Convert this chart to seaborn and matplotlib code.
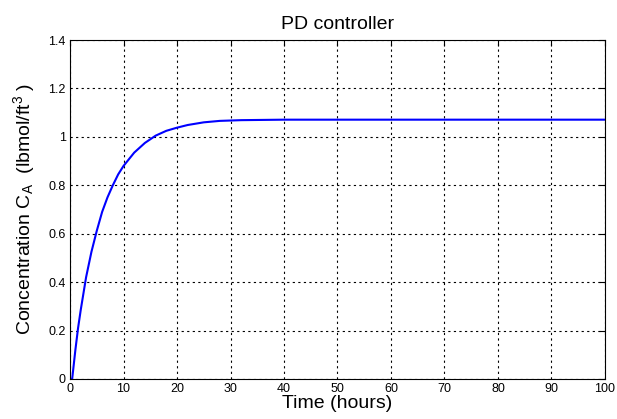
import matplotlib
matplotlib.use("Agg")
import matplotlib.pyplot as plt
import seaborn as sns
import pandas as pd

time_hours = [0, 0.4, 1.0, 1.5, 2.0, 3.0, 4.0, 5.0, 6.0, 7.0, 8.0, 9.0, 10.0, 12.0, 14.0,
              16.0, 18.0, 20.0, 22.0, 25.0, 28.0, 32.0, 40.0, 50.0, 60.0, 70.0, 80.0, 90.0, 100.0]
conc = [0.0, 0.0, 0.12, 0.21, 0.285, 0.42, 0.525, 0.612, 0.69, 0.75, 0.80, 0.845, 0.88, 0.935, 0.975,
        1.005, 1.025, 1.038, 1.049, 1.06, 1.066, 1.069, 1.071, 1.071, 1.071, 1.071, 1.071, 1.071, 1.071]
x_ticks = [0, 10, 20, 30, 40, 50, 60, 70, 80, 90, 100]
y_ticks = [0, 0.2, 0.4, 0.6, 0.8, 1.0, 1.2, 1.4]
y_tick_labels = ["0", "0.2", "0.4", "0.6", "0.8", "1", "1.2", "1.4"]

sns.set_theme(style="white")
plt.rcParams['font.family'] = ['Liberation Sans', 'DejaVu Sans']
plt.rcParams['mathtext.fontset'] = 'custom'
plt.rcParams['mathtext.rm'] = 'Liberation Sans'
plt.rcParams['mathtext.it'] = 'Liberation Sans'

df = pd.DataFrame({"t": time_hours, "c": conc})

fig = plt.figure(figsize=(6.17, 4.19), dpi=100)
ax = fig.add_axes([0.1135, 0.0955, 0.867, 0.809])
sns.lineplot(data=df, x="t", y="c", ax=ax, color="#0000ff", linewidth=1.5)

ax.set_xlim(0, 100)
ax.set_ylim(0, 1.4)
ax.set_xticks(x_ticks)
ax.set_xticklabels([str(v) for v in x_ticks])
ax.set_yticks(y_ticks)
ax.set_yticklabels(y_tick_labels)
ax.grid(True, color="black", linestyle=(0, (2, 3)), linewidth=0.8)
ax.tick_params(direction="in", length=4, width=0.8, labelsize=9, colors="black",
               top=True, right=True, pad=3)
for s in ax.spines.values():
    s.set_color("black")
    s.set_linewidth(0.8)
ax.set_title("PD controller", fontsize=14, pad=8, color="black")
ax.set_xlabel("Time (hours)", fontsize=14, labelpad=0, color="black")
ax.set_ylabel(r"Concentration C$_A$  (lbmol/ft$^3$ )", fontsize=14, labelpad=8, color="black")

fig.savefig("out.png", dpi=100)
